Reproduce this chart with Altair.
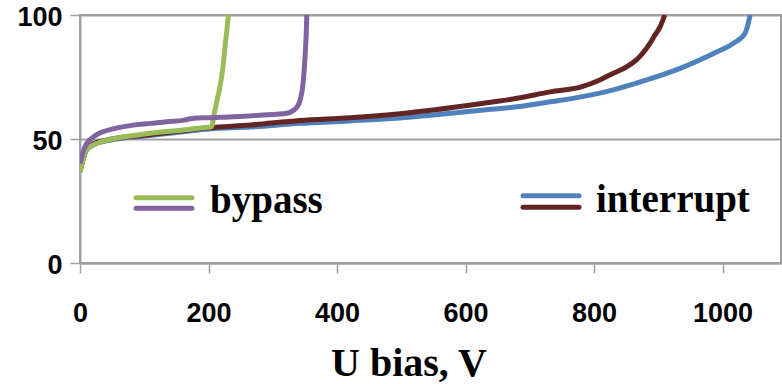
import altair as alt
import pandas as pd

# Bias voltage (V) and measured values for each curve
u_bypass_green = [0, 5, 10, 20, 35, 60, 90, 120, 150, 180, 205, 208, 212, 217, 222, 226, 229, 231]
v_bypass_green = [36.5, 42, 45.5, 47.5, 49, 50.5, 51.6, 52.6, 53.3, 54.2, 55, 59, 64, 70, 78, 88, 95, 100]

u_bypass_purple = [0, 5, 10, 16, 30, 50, 83, 110, 135, 160, 175, 200, 240, 280, 322, 332, 338, 343, 347, 350, 352, 353]
v_bypass_purple = [40, 45, 48, 49.8, 52.3, 54, 55.6, 56.3, 57, 57.5, 58.3, 58.6, 59, 59.6, 60.4, 61.5, 63, 66, 72, 82, 92, 100]

u_interrupt_blue = [0, 5, 10, 20, 50, 100, 150, 200, 265, 342, 420, 498, 550, 628, 680, 732, 780, 830, 882, 934, 986, 1017, 1035, 1040, 1043]
v_interrupt_blue = [37, 42, 45.5, 47.5, 49.7, 51.2, 52.6, 54, 54.8, 56.3, 57.3, 58.5, 59.7, 61.7, 63, 65, 67, 69.8, 73.8, 78.5, 84.5, 88.6, 92.6, 96.6, 100]

u_interrupt_red = [0, 5, 10, 20, 50, 100, 150, 200, 265, 342, 420, 498, 550, 628, 680, 732, 780, 809, 830, 850, 866, 877, 887, 895, 903, 910]
v_interrupt_red = [37, 42, 46, 48, 50, 51.5, 53, 54.5, 55.6, 57.5, 58.6, 60.2, 61.7, 64.4, 66.4, 69, 71, 73.8, 76.5, 79, 81.9, 85, 88.6, 92, 95.3, 100]

x_ticks = [0, 200, 400, 600, 800, 1000]
y_ticks = [0, 50, 100]
legend_labels = ["bypass", "interrupt"]
x_title = ["U bias, V"]

GREEN = "#9BBB59"
PURPLE = "#8064A2"
BLUE = "#4F81BD"
DARKRED = "#632523"
GRID = "#a0a0a0"
SERIF = "'Liberation Serif', 'Times New Roman', 'DejaVu Serif', serif"

x_scale = alt.Scale(domain=[0, 1091], nice=False, zero=False)
y_scale = alt.Scale(domain=[0, 100], nice=False)

x_axis = alt.Axis(
    values=x_ticks, grid=False, title=None, format="d",
    labelFont="Liberation Sans", labelFontSize=27, labelFontWeight="bold", labelColor="black",
    labelBaseline="middle", labelPadding=40, labelFlush=False, labelOverlap=False,
    tickSize=10, tickColor=GRID, tickWidth=1.5, domainColor=GRID, domainWidth=2,
)
y_axis = alt.Axis(
    values=y_ticks, grid=True, gridColor=GRID, gridWidth=2, title=None, format="d",
    labelFont="Liberation Sans", labelFontSize=27, labelFontWeight="bold", labelColor="black",
    labelBaseline="middle", labelPadding=8, labelOffset=2, labelFlush=False, labelOverlap=False,
    tickSize=10, tickColor=GRID, tickWidth=1.5, domainColor=GRID, domainWidth=2,
)


def curve(u, v, color):
    df = pd.DataFrame({"u": u, "v": v})
    return alt.Chart(df).mark_line(color=color, strokeWidth=5, clip=True, interpolate="monotone").encode(
        x=alt.X("u:Q", scale=x_scale, axis=x_axis),
        y=alt.Y("v:Q", scale=y_scale, axis=y_axis),
    )


lines = [
    curve(u_interrupt_blue, v_interrupt_blue, BLUE),
    curve(u_interrupt_red, v_interrupt_red, DARKRED),
    curve(u_bypass_green, v_bypass_green, GREEN),
    curve(u_bypass_purple, v_bypass_purple, PURPLE),
]


# Legend: two stacked swatches followed by a label
def swatch(x0, x1, y, color):
    return alt.Chart(pd.DataFrame({"k": [0]})).mark_rule(
        color=color, strokeWidth=5, strokeCap="round"
    ).encode(x=alt.value(x0), x2=alt.value(x1), y=alt.value(y))


def serif_text(label, x, y, size, align="left"):
    return alt.Chart(pd.DataFrame({"label": [label]})).mark_text(
        font=SERIF, fontSize=size, fontWeight="bold", color="black",
        align=align, baseline="alphabetic",
    ).encode(x=alt.value(x), y=alt.value(y), text="label:N")


legend = [
    swatch(56, 112, 182.7, GREEN),
    swatch(56, 112, 193.3, PURPLE),
    serif_text(legend_labels[0], 130, 198, 39),
    swatch(443, 499, 180.7, BLUE),
    swatch(443, 499, 192.3, DARKRED),
    serif_text(legend_labels[1], 516, 197, 39),
]

# Horizontal axis title, set in a bold serif face below the tick labels
title = serif_text(x_title[0], 329, 361, 40, align="center")

chart = alt.layer(*lines, *legend, title).properties(
    width=701, height=248,
    autosize=alt.AutoSizeParams(type="none"),
    padding={"left": 80, "top": 15, "right": 1, "bottom": 121},
    background="white",
).configure_view(stroke=GRID, strokeWidth=2)

chart.save("out.html", embed_options={"renderer": "svg", "actions": False})
